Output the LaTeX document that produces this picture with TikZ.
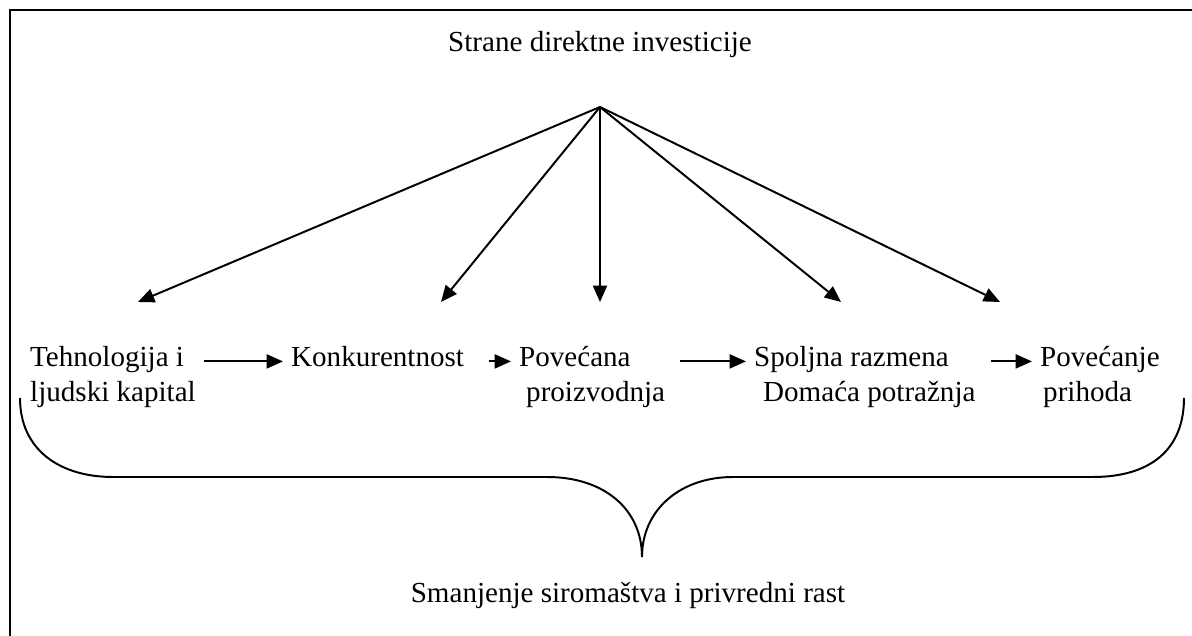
\documentclass[tikz,border=0pt]{standalone}
\usepackage{fontspec}
\setmainfont{Liberation Serif}
\usetikzlibrary{arrows.meta}
\begin{document}
\begin{tikzpicture}[x=0.43pt, y=-0.43pt,
    txt/.style={font=\fontsize{12.5}{15}\selectfont, text height=0.7em, text depth=0.22em},
    arr/.style={-{Triangle[length=7pt,width=6pt]}, line width=0.85pt}]
      \useasboundingbox (0,0) rectangle (1192,636);
      \draw[line width=1.1pt] (1192,10) -- (10,10) -- (10,636);

      \node[txt, anchor=base] (sdi) at (600,52){Strane direktne investicije};
      \coordinate (tip) at (600,107);
      \coordinate (e1) at (138,302);
      \coordinate (e2) at (441,302);
      \coordinate (e3) at (600,302);
      \coordinate (e4) at (841,302);
      \coordinate (e5) at (1000,302);

      \node[txt, anchor=base west] (r1a) at (22,367){Tehnologija i};
      \node[txt, anchor=base west] (r1b) at (22,402){ljudski kapital};
      \node[txt, anchor=base west] (r2) at (283,367){Konkurentnost};
      \node[txt, anchor=base west] (r3a) at (511,367){Povećana};
      \node[txt, anchor=base west] (r3b) at (518,402){proizvodnja};
      \node[txt, anchor=base west] (r4a) at (746,367){Spoljna razmena};
      \node[txt, anchor=base west] (r4b) at (755,402){Domaća potražnja};
      \node[txt, anchor=base west] (r5a) at (1032,367){Povećanje};
      \node[txt, anchor=base west] (r5b) at (1035,402){prihoda};
      \node[txt, anchor=base] (rast) at (628,603){Smanjenje siromaštva i privredni rast};

      \draw[arr] (tip) -- (e1);
      \draw[arr] (tip) -- (e2);
      \draw[arr] (tip) -- (e3);
      \draw[arr] (tip) -- (e4);
      \draw[arr] (tip) -- (e5);

      \draw[arr, shorten <=5pt] (r1a.east) -- (r2.west);
      \draw[arr, shorten <=7pt] (r2.east) -- (r3a.west);
      \draw[arr, shorten <=3pt] (r3b.east |- r3a.east) -- (r4a.west);
      \draw[arr, shorten <=3pt] (r4b.east |- r4a.east) -- (r5a.west);

      \draw[line width=0.85pt] (20,398) .. controls (20,450) and (60,477) .. (113,477)
        -- (547,477) .. controls (605,477) and (642,510) .. (642,557)
        .. controls (642,510) and (680,477) .. (733,477)
        -- (1093,477) .. controls (1150,477) and (1184,450) .. (1184,398);

    \end{tikzpicture}
\end{document}
